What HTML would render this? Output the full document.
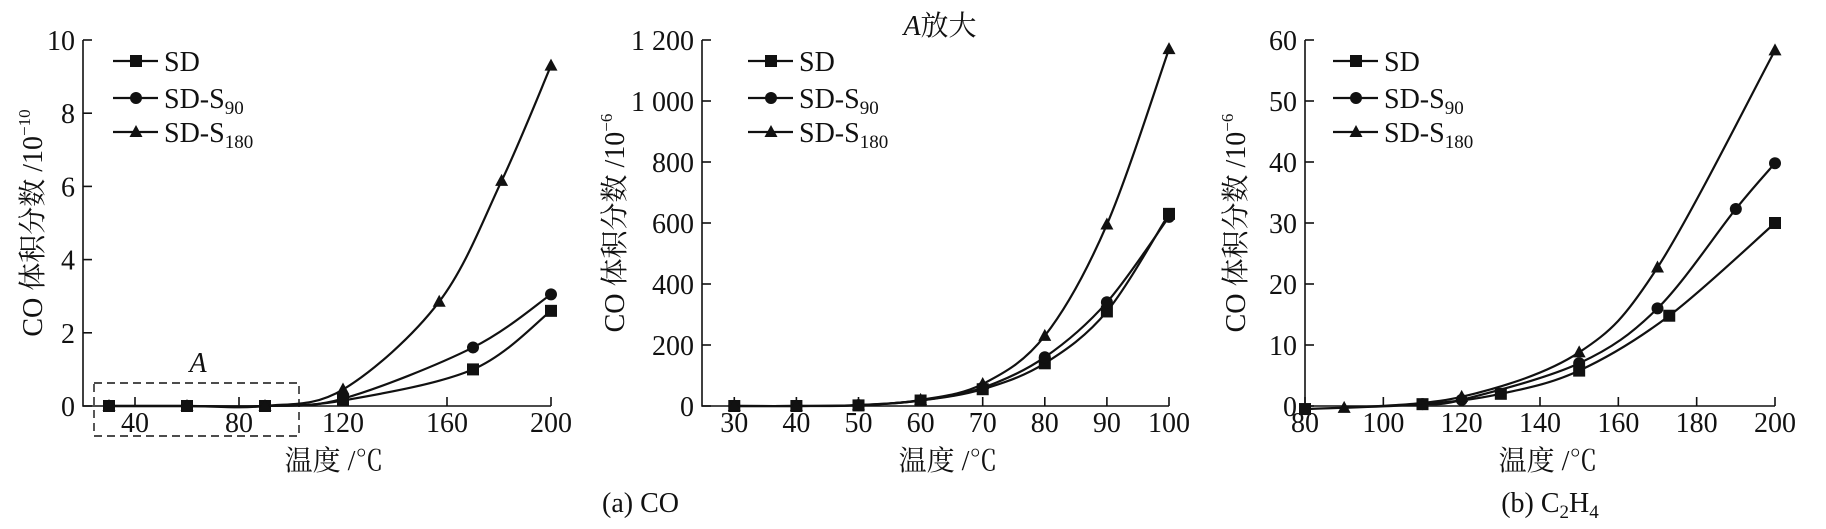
<!DOCTYPE html>
<html><head><meta charset="utf-8"><style>
html,body{margin:0;padding:0;background:#fff}
svg{display:block}
text{font-family:"Liberation Serif","Noto Serif CJK SC","Noto Sans CJK SC",serif;fill:#111}
</style></head><body>
<svg id="fig" width="1826" height="529" viewBox="0 0 1826 529" xmlns="http://www.w3.org/2000/svg"></svg>
<script>
// Panel 1 data (CO, 10^-10)
const p1Sd = [[30,0],[60,0],[90,0],[120,0.15],[170,1.0],[200,2.6]];
const p1S90 = [[30,0],[60,0],[90,0],[120,0.2],[170,1.6],[200,3.05]];
const p1S180 = [[30,0],[60,0],[90,0],[120,0.45],[157,2.85],[181,6.15],[200,9.3]];
const p1XTicks = [40,80,120,160,200];
const p1YTicks = [0,2,4,6,8,10];
// Panel 2 data (A zoom, 10^-6)
const p2Sd = [[30,0],[40,0],[50,2],[60,18],[70,55],[80,140],[90,310],[100,630]];
const p2S90 = [[30,0],[40,0],[50,3],[60,18],[70,60],[80,160],[90,340],[100,620]];
const p2S180 = [[30,0],[40,0],[50,3],[60,20],[70,72],[80,230],[90,595],[100,1170]];
const p2XTicks = [30,40,50,60,70,80,90,100];
const p2YTicks = [0,200,400,600,800,1000,1200];
const p2YLabels = ["0","200","400","600","800","1 000","1 200"];
// Panel 3 data (C2H4, 10^-6)
const p3Sd = [[80,-0.5],[110,0.3],[130,2],[150,5.8],[173,14.8],[200,30]];
const p3S90 = [[110,0.3],[120,1],[150,7],[170,16],[190,32.3],[200,39.8]];
const p3S180 = [[90,-0.3],[120,1.5],[150,8.8],[170,22.7],[200,58.3]];
const p3XTicks = [80,100,120,140,160,180,200];
const p3YTicks = [0,10,20,30,40,50,60];

const NS="http://www.w3.org/2000/svg";
const svg=document.getElementById('fig');
function mk(tag,attrs,parent,txt){const e=document.createElementNS(NS,tag);for(const k in attrs)e.setAttribute(k,attrs[k]);if(txt!==undefined)e.textContent=txt;(parent||svg).appendChild(e);return e;}

function spline(pts){
  let d=`M${pts[0][0]},${pts[0][1]}`;
  for(let i=0;i<pts.length-1;i++){
    const p0=pts[Math.max(0,i-1)],p1=pts[i],p2=pts[i+1],p3=pts[Math.min(pts.length-1,i+2)];
    const c1x=p1[0]+(p2[0]-p0[0])/6,c1y=p1[1]+(p2[1]-p0[1])/6;
    const c2x=p2[0]-(p3[0]-p1[0])/6,c2y=p2[1]-(p3[1]-p1[1])/6;
    d+=` C${c1x},${c1y} ${c2x},${c2y} ${p2[0]},${p2[1]}`;
  }
  return d;
}
function marker(g,type,x,y){
  let m;
  if(type==='sq'){m=mk('rect',{x:x-6,y:y-6,width:12,height:12,fill:'#111'},g);}
  else if(type==='ci'){m=mk('circle',{cx:x,cy:y,r:6,fill:'#111'},g);}
  else {m=mk('polygon',{points:`${x},${y-7} ${x-6.5},${y+5} ${x+6.5},${y+5}`,fill:'#111'},g);}
  
  
}
function panel(o){
  const g=mk('g',{});
  
  
  const sx=v=>o.x0+(v-o.xmin)/(o.xmax-o.xmin)*(o.x1-o.x0);
  const sy=v=>o.y0-(v-o.ymin)/(o.ymax-o.ymin)*(o.y0-o.y1);
  const ax=mk('path',{d:`M${o.x0},${o.y1} L${o.x0},${o.y0} L${o.x1},${o.y0}`,fill:'none',stroke:'#111','stroke-width':1.6},g);
  
  
  o.yt.forEach((v,i)=>{
    const y=sy(v);
    mk('line',{x1:o.x0,y1:y,x2:o.x0+9,y2:y,stroke:'#111','stroke-width':1.6},g);
    const t=mk('text',{x:o.x0-8,y:y+10,'font-size':28,'text-anchor':'end'},g,o.yl?o.yl[i]:String(v));
    
    
  });
  o.xt.forEach(v=>{
    const x=sx(v);
    mk('line',{x1:x,y1:o.y0,x2:x,y2:o.y0-9,stroke:'#111','stroke-width':1.6},g);
    const t=mk('text',{x:x,y:432,'font-size':28,'text-anchor':'middle'},g,String(v));
    
    
  });
  const types=['sq','ci','tr'];
  o.series.forEach((s,k)=>{
    const pts=s.map(p=>[sx(p[0]),sy(p[1])]);
    const c=mk('path',{d:spline(pts),fill:'none',stroke:'#111','stroke-width':2.2},g);
    
    
    pts.forEach(p=>marker(g,types[k],p[0],p[1]));
  });
  const names=[['SD',''],['SD-S','90'],['SD-S','180']];
  const ly=[61,98,132];
  names.forEach((n,k)=>{
    const lg=mk('g',{},g);
    
    
    mk('line',{x1:o.lx,y1:ly[k],x2:o.lx+45,y2:ly[k],stroke:'#111','stroke-width':2.2},lg);
    marker(lg,types[k],o.lx+23,ly[k]);
    const t=mk('text',{x:o.lx+51,y:ly[k]+10,'font-size':28},lg,n[0]);
    if(n[1]) mk('tspan',{'font-size':19,dy:6},t,n[1]);
  });
  const yt=mk('text',{x:0,y:0,'font-size':28,'text-anchor':'middle',transform:`translate(${o.ytx},${(o.y0+o.y1)/2}) rotate(-90)`},g,'CO 体积分数 /10');
  mk('tspan',{'font-size':17,dy:-12},yt,o.yexp);
  
  
  const xt=mk('text',{x:o.xtx,y:470,'font-size':28,'text-anchor':'middle'},g,'温度 /℃');
  
  
  return {sx,sy,g};
}
panel({name:'panel-co',x0:83,x1:551,y0:406,y1:40,xmin:20,xmax:200,ymin:0,ymax:10,xt:p1XTicks,yt:p1YTicks,series:[p1Sd,p1S90,p1S180],lx:113,ytx:42,xtx:334,yexp:'−10'});
panel({name:'panel-co-zoom',x0:702,x1:1169,y0:406,y1:40,xmin:24.8,xmax:100,ymin:0,ymax:1200,xt:p2XTicks,yt:p2YTicks,yl:p2YLabels,series:[p2Sd,p2S90,p2S180],lx:748,ytx:624,xtx:948,yexp:'−6'});
panel({name:'panel-c2h4',x0:1305,x1:1775,y0:406,y1:40,xmin:80,xmax:200,ymin:0,ymax:60,xt:p3XTicks,yt:p3YTicks,series:[p3Sd,p3S90,p3S180],lx:1333,ytx:1245,xtx:1548,yexp:'−6'});

const box=mk('rect',{x:94,y:383,width:205,height:53,fill:'none',stroke:'#111','stroke-width':1.4,'stroke-dasharray':'8,5'});


const a=mk('text',{x:198,y:372,'font-size':28,'font-style':'italic','text-anchor':'middle'},svg,'A');


const zt=mk('text',{x:940,y:35,'font-size':28,'text-anchor':'middle'},svg,'');
mk('tspan',{'font-style':'italic'},zt,'A');
mk('tspan',{},zt,'放大');


const ca=mk('text',{x:602,y:512,'font-size':28},svg,'(a)  CO');


const cb=mk('text',{x:1550,y:512,'font-size':28,'text-anchor':'middle'},svg,'(b)  C');
mk('tspan',{'font-size':19,dy:6},cb,'2');
mk('tspan',{dy:-6},cb,'H');
mk('tspan',{'font-size':19,dy:6},cb,'4');


</script>
</body></html>
